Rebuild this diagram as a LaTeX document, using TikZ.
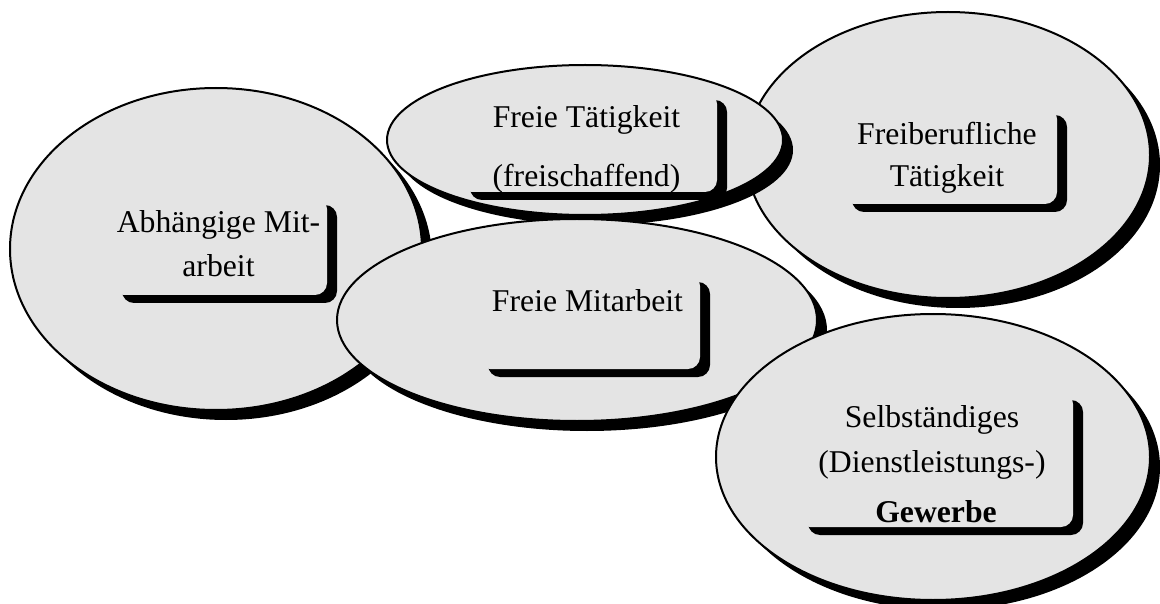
\documentclass[tikz,border=0pt]{standalone}
\usepackage{fontspec}
\setmainfont{Liberation Serif}
\usetikzlibrary{shapes.geometric,shadows}
\definecolor{ellgray}{RGB}{228,228,228}
\tikzset{
  ell/.style={ellipse, draw=black, line width=2pt, fill=ellgray, inner sep=0pt,
    drop shadow={shadow xshift=10pt, shadow yshift=-10pt, fill=black, opacity=1}},
  tbox/.style={rectangle, rounded corners=12pt, fill=ellgray, inner sep=0pt,
    drop shadow={shadow xshift=10pt, shadow yshift=-8pt, fill=black, opacity=1}},
  txt/.style={anchor=base, inner sep=0pt, font=\fontsize{31.7}{38}\selectfont}
}
\begin{document}
\begin{tikzpicture}[x=1pt,y=-1pt]
\useasboundingbox (0,0) rectangle (1160,604);
% Abhaengige Mitarbeit
\node[ell, minimum width=412pt, minimum height=322pt] (e1) at (216,249) {};
\node[tbox, minimum width=215pt, minimum height=98pt] (b1) at (219.5,246) {};
\node[txt] (t1a) at (218.5,233) {Abhängige Mit-};
\node[txt] (t1b) at (218.5,277) {arbeit};
% Freiberufliche Taetigkeit
\node[ell, minimum width=404pt, minimum height=286pt] (e3) at (948,155) {};
\node[tbox, minimum width=215pt, minimum height=97pt] (b3) at (949.5,155.5) {};
\node[txt] (t3a) at (947,145) {Freiberufliche};
\node[txt] (t3b) at (947,187) {Tätigkeit};
% Freie Taetigkeit
\node[ell, minimum width=396pt, minimum height=150pt] (e2) at (585,140) {};
\node[tbox, minimum width=257pt, minimum height=100pt] (b2) at (588.5,142) {};
\node[txt] (t2a) at (586.5,128) {Freie Tätigkeit};
\node[txt] (t2b) at (586.5,187) {(freischaffend)};
% Freie Mitarbeit
\node[ell, minimum width=480pt, minimum height=202pt] (e4) at (577,320) {};
\node[tbox, minimum width=222pt, minimum height=95pt] (b4) at (589,321.5) {};
\node[txt] (t4a) at (587.5,312) {Freie Mitarbeit};
% Selbstaendiges Gewerbe
\node[ell, minimum width=434pt, minimum height=286pt] (e5) at (933,457) {};
\node[tbox, minimum width=275pt, minimum height=135pt] (b5) at (935.5,459.5) {};
\node[txt] (t5a) at (932,427) {Selbständiges};
\node[txt] (t5b) at (932,472) {(Dienstleistungs-)};
\node[txt, font=\fontsize{31.7}{38}\selectfont\bfseries] (t5c) at (936,522) {Gewerbe};
\end{tikzpicture}
\end{document}
